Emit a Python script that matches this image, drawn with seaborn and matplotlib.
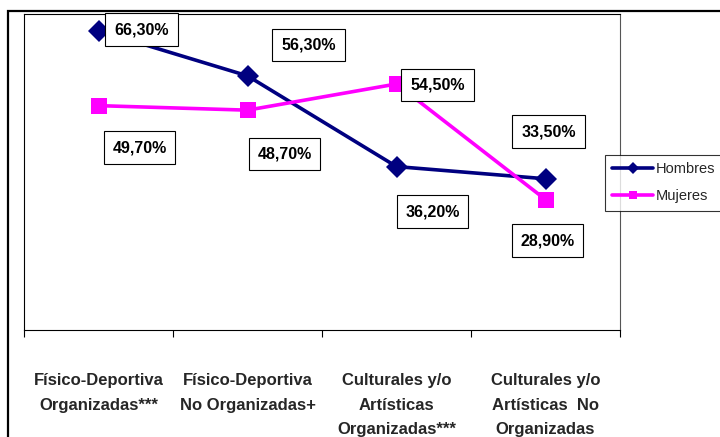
import matplotlib
matplotlib.use("Agg")
import matplotlib.pyplot as plt
from matplotlib.patches import Rectangle
import seaborn as sns
import pandas as pd

categorias = ["Físico-Deportiva\nOrganizadas***",
              "Físico-Deportiva\nNo Organizadas+",
              "Culturales y/o\nArtísticas\nOrganizadas***",
              "Culturales y/o\nArtísticas  No\nOrganizadas"]
hombres = [66.3, 56.3, 36.2, 33.5]
mujeres = [49.7, 48.7, 54.5, 28.9]

# label offsets in pixels (dx, dy) relative to each point
off_h = [(43, 1), (61, 31), (36, -45), (3, 47)]
off_m = [(41, -42), (37, -44), (41, -1), (2, -41)]

df = pd.DataFrame({
    "pos": list(range(4)) * 2,
    "valor": hombres + mujeres,
    "sexo": ["Hombres"] * 4 + ["Mujeres"] * 4,
})

sns.set_style("white")
plt.rcParams["font.family"] = ["Liberation Sans", "DejaVu Sans"]

fig = plt.figure(figsize=(7.2, 4.37), dpi=100)
ax = fig.add_axes([24 / 720, 1 - 330 / 437, (620 - 24) / 720, (330 - 14) / 437])

sns.lineplot(data=df, x="pos", y="valor", hue="sexo", style="sexo",
             palette={"Hombres": "#000080", "Mujeres": "#FF00FF"},
             markers={"Hombres": "D", "Mujeres": "s"}, dashes=False,
             linewidth=2.6, markersize=11, markeredgewidth=0, ax=ax)

for vals, offs in ((hombres, off_h), (mujeres, off_m)):
    for i, (v, (dx, dy)) in enumerate(zip(vals, offs)):
        ax.annotate(f"{v:.2f}%".replace(".", ","), (i, v), xytext=(dx, dy),
                    textcoords="offset pixels", ha="center", va="center",
                    fontsize=11.5, fontweight="bold", color="black",
                    bbox=dict(boxstyle="square,pad=0.55", fc="white",
                              ec="black", lw=0.8))

ax.set_xlim(-0.5, 3.5)
ax.set_ylim(0, 70)
ax.set_xlabel("")
ax.set_ylabel("")
ax.set_yticks([])
ax.set_xticks(range(4))
ax.set_xticklabels(categorias, fontsize=12, fontweight="bold",
                   linespacing=1.8)
ax.tick_params(axis="x", which="major", length=0, pad=31)
ax.set_xticks([-0.5, 0.5, 1.5, 2.5, 3.5], minor=True)
ax.tick_params(axis="x", which="minor", bottom=True, length=5, width=0.8,
               color="black", direction="out")
for side in ("left", "top", "bottom"):
    ax.spines[side].set_color("black")
    ax.spines[side].set_linewidth(0.8)
ax.spines["right"].set_color("#555555")
ax.spines["right"].set_linewidth(0.8)

leg = ax.legend(title=None, loc="upper left",
                bbox_to_anchor=(605 / 720, 1 - 155 / 437),
                bbox_transform=fig.transFigure, frameon=True, fancybox=False,
                fontsize=10.5, handlelength=2.8, handletextpad=0.2,
                borderpad=0.5, labelspacing=0.9, borderaxespad=0)
leg.get_frame().set_edgecolor("black")
leg.get_frame().set_linewidth(0.8)
for h in leg.legend_handles:
    h.set_markersize(6)

# outer chart frame
fig.patches.append(Rectangle((8 / 720, -0.1), 1.2, 1 - 11 / 437 + 0.1,
                             transform=fig.transFigure, fill=False,
                             ec="black", lw=1.6))

fig.savefig("out.png", dpi=100)
